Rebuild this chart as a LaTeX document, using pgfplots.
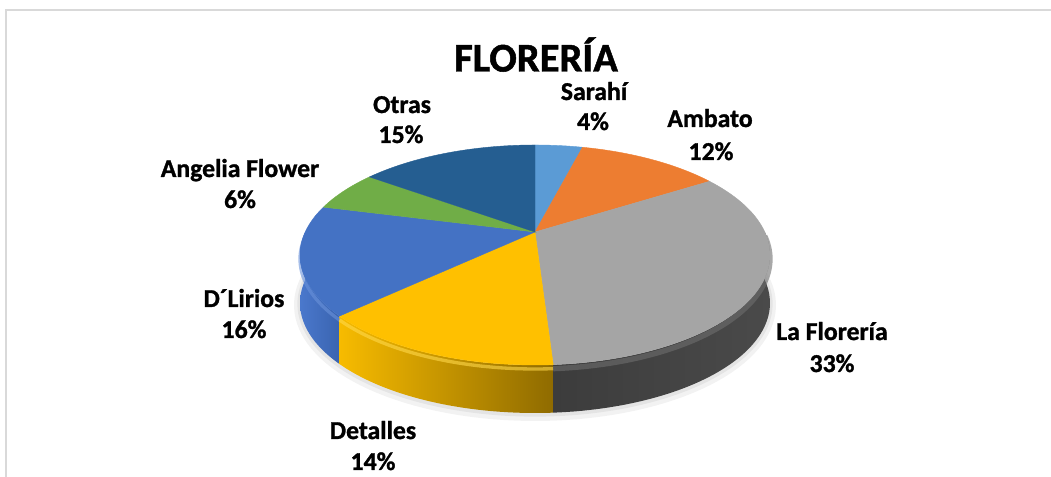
\documentclass[border=0pt]{standalone}
\usepackage{fontspec}
\setmainfont{Carlito}[BoldFeatures={FakeBold=1.2}]
\usepackage{pgfplots}
\pgfplotsset{compat=1.18}
\definecolor{cSar}{HTML}{5B9BD5}
\definecolor{cAmb}{HTML}{ED7D31}
\definecolor{cLaF}{HTML}{A5A5A5}
\definecolor{cDet}{HTML}{FFC000}
\definecolor{cDLi}{HTML}{4472C4}
\definecolor{cAng}{HTML}{70AD47}
\definecolor{cOtr}{HTML}{255E91}
\definecolor{frame}{HTML}{D9D9D9}
\definecolor{sDLiL}{HTML}{4A78CC}
\definecolor{sDLiR}{HTML}{3A64B0}
\definecolor{sDetL}{HTML}{F7BB00}
\definecolor{sDetR}{HTML}{8F6B00}
\definecolor{sLaFL}{HTML}{3C3C3C}
\definecolor{sLaFR}{HTML}{4A4A4A}
\definecolor{rDLi}{HTML}{6A92DA}
\definecolor{rDet}{HTML}{FFD84A}
\definecolor{rLaF}{HTML}{6E6E6E}
\begin{document}
\begin{tikzpicture}
% data (percent)
\def\vSar{4}\def\vAmb{12}\def\vLaF{33}\def\vDet{14}\def\vDLi{16}\def\vAng{6}\def\vOtr{15}
\pgfmathsetmacro\tA{90}
\pgfmathsetmacro\tB{\tA-3.6*\vSar}
\pgfmathsetmacro\tC{\tB-3.6*\vAmb}
\pgfmathsetmacro\tD{\tC-3.6*\vLaF}
\pgfmathsetmacro\tE{\tD-3.6*\vDet}
\pgfmathsetmacro\tF{\tE-3.6*\vDLi}
\pgfmathsetmacro\tG{\tF-3.6*\vAng}
\pgfmathsetmacro\tH{\tG-3.6*\vOtr}
\path[use as bounding box] (0,0) rectangle (788.25pt,357.75pt);
\begin{axis}[at={(0,0)}, anchor=south west, scale only axis,
  width=788.25pt, height=357.75pt,
  xmin=0, xmax=1051, ymin=0, ymax=477, y dir=reverse,
  hide axis, clip=false,
  declare function={
    px(\t)=535+229.8*cos(\t)/(1+0.209*sin(\t));
    py(\t)=232-105.2*sin(\t)/(1+0.209*sin(\t));
    sang(\s,\a,\b)=\a+(\b-\a)*min(\s,1)-(\b-\a)*max(\s-2,0);
    sdy(\s)=48*min(max(\s-1,0),1);
  }]
% frame
\draw[frame, line width=1.2pt] (axis cs:6,477) -- (axis cs:6,10) -- (axis cs:1051,10);
% shadow
\addplot[draw=black, opacity=0.05, line width=9pt, domain=-195:15, samples=90] ({px(x)},{py(x)+50});
\addplot[draw=black, opacity=0.06, line width=4pt, domain=-190:10, samples=90] ({px(x)},{py(x)+49});
% sides
\addplot[draw=none, left color=sDLiL, right color=sDLiR, domain=0:3, samples=181]
  ({px(sang(x,-180,\tE))},{py(sang(x,-180,\tE))+sdy(x)}) -- cycle;
\addplot[draw=none, left color=sDetL, right color=sDetR, domain=0:3, samples=181]
  ({px(sang(x,\tE,\tD))},{py(sang(x,\tE,\tD))+sdy(x)}) -- cycle;
\addplot[draw=none, left color=sLaFL, right color=sLaFR, domain=0:3, samples=181]
  ({px(sang(x,\tD,0))},{py(sang(x,\tD,0))+sdy(x)}) -- cycle;
% rim highlights
\addplot[draw=rDLi, line width=2.5pt, opacity=0.6, domain=-180:\tE, samples=40] ({px(x)},{py(x)+4});
\addplot[draw=rDet, line width=2.5pt, opacity=0.6, domain=\tE:\tD, samples=40] ({px(x)},{py(x)+4});
\addplot[draw=rLaF, line width=4pt, opacity=0.6, domain=\tD:0, samples=60] ({px(x)},{py(x)+4});
% top faces
\addplot[fill=cSar, draw=cSar, line width=0.3pt, domain=\tB:\tA, samples=20] ({px(x)},{py(x)}) -- (axis cs:535,232) -- cycle;
\addplot[fill=cAmb, draw=cAmb, line width=0.3pt, domain=\tC:\tB, samples=40] ({px(x)},{py(x)}) -- (axis cs:535,232) -- cycle;
\addplot[fill=cLaF, draw=cLaF, line width=0.3pt, domain=\tD:\tC, samples=90] ({px(x)},{py(x)}) -- (axis cs:535,232) -- cycle;
\addplot[fill=cDet, draw=cDet, line width=0.3pt, domain=\tE:\tD, samples=40] ({px(x)},{py(x)}) -- (axis cs:535,232) -- cycle;
\addplot[fill=cDLi, draw=cDLi, line width=0.3pt, domain=\tF:\tE, samples=40] ({px(x)},{py(x)}) -- (axis cs:535,232) -- cycle;
\addplot[fill=cAng, draw=cAng, line width=0.3pt, domain=\tG:\tF, samples=20] ({px(x)},{py(x)}) -- (axis cs:535,232) -- cycle;
\addplot[fill=cOtr, draw=cOtr, line width=0.3pt, domain=\tH:\tG, samples=40] ({px(x)},{py(x)}) -- (axis cs:535,232) -- cycle;
% title
\node[anchor=base, font=\bfseries\fontsize{30.5}{36}\selectfont] at (axis cs:536,71.5) {FLORERÍA};
% labels
\tikzset{lab/.style={anchor=base, font=\bfseries\fontsize{19.3}{23}\selectfont}}
\node[lab] at (axis cs:594,100) {Sarahí};
\node[lab] at (axis cs:593,130) {4\%};
\node[lab] at (axis cs:710,127) {Ambato};
\node[lab] at (axis cs:711,160) {12\%};
\node[lab] at (axis cs:832,340) {La Florería};
\node[lab] at (axis cs:832,372) {33\%};
\node[lab] at (axis cs:373,439) {Detalles};
\node[lab] at (axis cs:373,470) {14\%};
\node[lab] at (axis cs:244,307) {D´Lirios};
\node[lab] at (axis cs:244,338) {16\%};
\node[lab] at (axis cs:240,177) {Angelia Flower};
\node[lab] at (axis cs:240,208) {6\%};
\node[lab] at (axis cs:402,113) {Otras};
\node[lab] at (axis cs:401,143) {15\%};
\end{axis}
\end{tikzpicture}
\end{document}
